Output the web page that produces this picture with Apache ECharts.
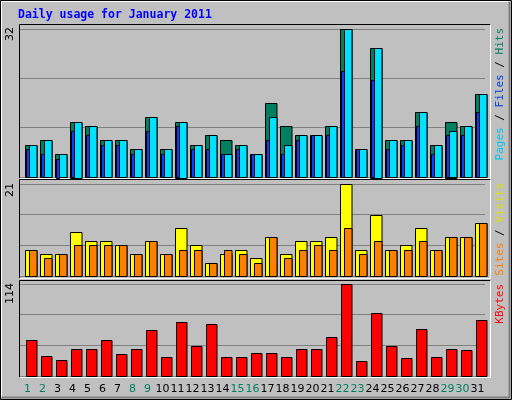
<!DOCTYPE html>
<html><head><meta charset="utf-8">
<script src="https://cdn.jsdelivr.net/npm/echarts@6/dist/echarts.min.js"></script>
<style>html,body{margin:0;padding:0;background:#C0C0C0}#c{width:512px;height:400px}</style>
</head><body><div id="c"></div>
<script>
const days = ['1','2','3','4','5','6','7','8','9','10','11','12','13','14','15','16','17','18','19','20','21','22','23','24','25','26','27','28','29','30','31'];
const weekend = [1,2,8,9,15,16,22,23,29,30];
const hits  = [7,8,5,12,11,8,8,6,13,6,12,7,9,8,7,5,16,11,9,9,11,32,6,28,8,8,14,7,12,11,18];
const files = [7,8,5,12,11,8,8,6,13,6,12,7,9,5,7,5,13,7,9,9,11,32,6,28,8,8,14,7,10,11,18];
const pages = [6,5,4,10,9,7,7,5,10,5,11,6,6,5,6,5,8,5,8,9,9,23,6,21,6,7,11,5,9,9,14];
const visits = [6,5,5,10,8,8,7,5,8,5,11,7,3,5,6,4,9,5,8,8,9,21,6,14,6,7,11,6,9,9,12];
const sites  = [6,4,5,7,7,7,7,5,8,5,6,6,3,6,5,3,9,4,6,7,6,11,5,8,6,6,8,6,9,9,12];
const kbytes = [44,25,20,33,33,44,27,33,57,23,67,37,64,23,24,29,29,24,33,34,48,114,18,78,37,22,58,24,34,32,70];
const maxLabels = [32, 21, 114];

function barSeries(data, grid, color, x0, x1) {
  return {
    type: 'custom', xAxisIndex: grid, yAxisIndex: grid,
    data: data.map((v, i) => [i, v]),
    renderItem: function (params, api) {
      const top = api.coord([api.value(0), api.value(1)]);
      const base = api.coord([api.value(0), 0]);
      return {
        type: 'rect',
        shape: { x: Math.round(top[0] + x0) + 0.5, y: Math.round(top[1]) + 0.5, width: x1 - x0, height: Math.round(base[1] - top[1]) },
        style: { fill: color, stroke: '#000', lineWidth: 1 }
      };
    }
  };
}

const grids = [
  { left: 20, width: 465, top: 29, height: 148 },
  { left: 20, width: 465, top: 184, height: 92 },
  { left: 20, width: 465, top: 284, height: 92 }
];
const maxes = [32, 21, 114];
const xAxes = grids.map((g, i) => ({
  type: 'category', gridIndex: i, data: days,
  axisLine: { show: false }, axisTick: { show: false },
  axisLabel: i === 2 ? {
    show: true, margin: 8, fontSize: 11, fontFamily: 'DejaVu Sans',
    interval: 0,
    color: (v) => weekend.indexOf(+v) >= 0 ? '#008060' : '#000'
  } : { show: false }
}));
const yAxes = grids.map((g, i) => ({
  type: 'value', gridIndex: i, min: 0, max: maxes[i], interval: maxes[i] / 3,
  axisLine: { show: false }, axisTick: { show: false }, axisLabel: { show: false },
  splitLine: { show: true, lineStyle: { color: '#808080', width: 1 } }
}));

function frame(x, y, w, h) {
  return [
    { type: 'polyline', shape: { points: [[x, y + h], [x, y], [x + w, y]] }, style: { stroke: '#000', lineWidth: 1, fill: null } },
    { type: 'polyline', shape: { points: [[x + w, y], [x + w, y + h], [x, y + h]] }, style: { stroke: '#fff', lineWidth: 1, fill: null } }
  ];
}
function vtext(x, y, rich, text) {
  return { type: 'text', x: x, y: y, rotation: Math.PI / 2,
    style: { text: text, rich: rich, font: '11px DejaVu Sans Mono', align: 'right', verticalAlign: 'middle' } };
}

const graphics = [
  { type: 'rect', shape: { x: 0.5, y: 0.5, width: 511, height: 399 }, style: { fill: null, stroke: '#000', lineWidth: 1 } },
  { type: 'polyline', shape: { points: [[1.5, 397.5], [1.5, 1.5], [509.5, 1.5]] }, style: { stroke: '#fff', lineWidth: 1, fill: null } },
  { type: 'polyline', shape: { points: [[509.5, 1.5], [509.5, 397.5], [1.5, 397.5]] }, style: { stroke: '#808080', lineWidth: 2, fill: null } },
  ...frame(19.5, 24.5, 471, 154),
  ...frame(19.5, 179.5, 471, 99),
  ...frame(19.5, 280.5, 471, 97),
  { type: 'text', x: 18, y: 9, style: { text: 'Daily usage for January 2011', fill: '#0000FF', font: 'bold 11.5px DejaVu Sans Mono' } },
  { type: 'text', x: 10, y: 27, rotation: Math.PI / 2, style: { text: String(maxLabels[0]), fill: '#000', font: '11px DejaVu Sans', align: 'right', verticalAlign: 'middle' } },
  { type: 'text', x: 10, y: 183, rotation: Math.PI / 2, style: { text: String(maxLabels[1]), fill: '#000', font: '11px DejaVu Sans', align: 'right', verticalAlign: 'middle' } },
  { type: 'text', x: 10, y: 283, rotation: Math.PI / 2, style: { text: String(maxLabels[2]), fill: '#000', font: '11px DejaVu Sans', align: 'right', verticalAlign: 'middle' } },
  vtext(500, 28, { p: { fill: '#00C8E8' }, f: { fill: '#0040E0' }, h: { fill: '#008060' }, s: { fill: '#000' } }, '{p|Pages}{s| / }{f|Files}{s| / }{h|Hits}'),
  vtext(500, 183, { a: { fill: '#FF8000' }, b: { fill: '#E0E000' }, s: { fill: '#000' } }, '{a|Sites}{s| / }{b|Visits}'),
  vtext(500, 284, { k: { fill: '#FF0000' } }, '{k|KBytes}')
];

const chart = echarts.init(document.getElementById('c'), null, { renderer: 'canvas' });
chart.setOption({
  backgroundColor: '#C0C0C0', animation: false,
  grid: grids, xAxis: xAxes, yAxis: yAxes,
  series: [
    barSeries(hits, 0, '#008060', -2.5, 9),
    barSeries(files, 0, '#00E0FF', 1.5, 9),
    barSeries(pages, 0, '#0040FF', -1.5, 1.5),
    barSeries(visits, 1, '#FFFF00', -2.5, 9),
    barSeries(sites, 1, '#FF8000', 1.5, 9),
    barSeries(kbytes, 2, '#FF0000', -1.5, 9)
  ],
  graphic: graphics
});
</script></body></html>
